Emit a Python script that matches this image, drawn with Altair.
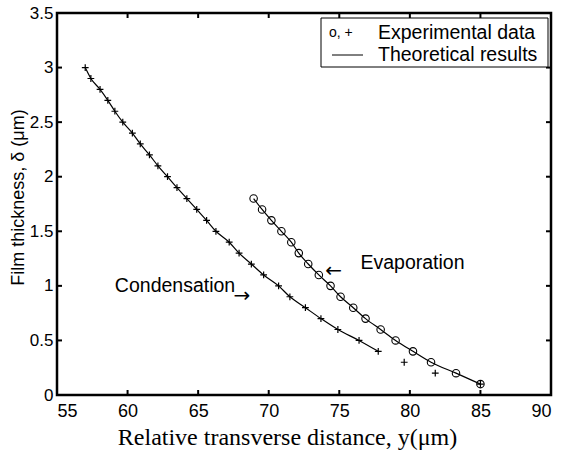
import altair as alt
import pandas as pd

# Condensation (+): film thickness vs. transverse distance
cond_delta = [3.0, 2.9, 2.8, 2.7, 2.6, 2.5, 2.4, 2.3, 2.2, 2.1, 2.0, 1.9, 1.8, 1.7,
              1.6, 1.5, 1.4, 1.3, 1.2, 1.1, 1.0, 0.9, 0.8, 0.7, 0.6, 0.5, 0.4]
cond_x = [57.0, 57.4, 58.05, 58.6, 59.1, 59.66, 60.34, 60.9, 61.55, 62.15, 62.83,
          63.5, 64.2, 64.9, 65.6, 66.26, 67.2, 67.9, 68.77, 69.64, 70.7, 71.5,
          72.6, 73.7, 74.9, 76.4, 77.76]
# extra condensation experimental points (no theoretical curve)
cond_tail_delta = [0.3, 0.2, 0.1]
cond_tail_x = [79.6, 81.8, 85.0]

# Evaporation (o)
evap_delta = [1.8, 1.7, 1.6, 1.5, 1.4, 1.3, 1.2, 1.1, 1.0, 0.9, 0.8, 0.7, 0.6,
              0.5, 0.4, 0.3, 0.2, 0.1]
evap_x = [68.93, 69.53, 70.19, 70.9, 71.6, 72.13, 72.8, 73.55, 74.38, 75.09,
          75.99, 76.86, 77.93, 78.99, 80.22, 81.5, 83.27, 85.0]

x_ticks = [55, 60, 65, 70, 75, 80, 85, 90]
y_ticks = [0, 0.5, 1, 1.5, 2, 2.5, 3, 3.5]

annot_text = ["Evaporation", "Condensation"]
annot_x = [76.5, 59.1]
annot_y = [1.21, 1.0]
arrow_text = ["\u2190", "\u2192"]
arrow_x = [74.0, 67.5]
arrow_y = [1.14, 0.91]

W, H = 494, 382
SANS = "Liberation Sans"
SERIF = "Liberation Serif"

xs = alt.Scale(domain=[55, 90], nice=False, zero=False)
ys = alt.Scale(domain=[0, 3.5], nice=False, zero=False)

cond_df = pd.DataFrame({"x": cond_x, "d": cond_delta})
cond_pts = pd.DataFrame({"x": cond_x + cond_tail_x, "d": cond_delta + cond_tail_delta})
evap_df = pd.DataFrame({"x": evap_x, "d": evap_delta})

xaxis = alt.Axis(values=x_ticks, domain=False, ticks=False, grid=False,
                 labelFont=SANS, labelFontSize=18, labelColor="black",
                 labelPadding=7, labelExpr="datum.value",
                 title="Relative transverse distance, y(\u03bcm)",
                 titleFont=SERIF, titleFontSize=24, titleFontWeight="normal",
                 titleColor="black", titleX=230, titleY=49,
                 titleBaseline="alphabetic", titleAnchor="middle")
yaxis = alt.Axis(values=y_ticks, domain=False, ticks=False, grid=False,
                 labelFont=SANS, labelFontSize=17, labelColor="black",
                 labelPadding=4, labelExpr="datum.value",
                 title="Film thickness, \u03b4 (\u03bcm)",
                 titleFont=SANS, titleFontSize=18, titleFontWeight="normal",
                 titleColor="black", titleX=-39, titleY=184, titleAngle=270,
                 titleBaseline="middle", titleAlign="center")

base_x = alt.X("x:Q", scale=xs, axis=xaxis)
base_y = alt.Y("d:Q", scale=ys, axis=yaxis)

cond_line = alt.Chart(cond_df).mark_line(color="black", strokeWidth=1.2,
                                         interpolate="monotone").encode(
    x=base_x, y=base_y, order="x:Q")
evap_line = alt.Chart(evap_df).mark_line(color="black", strokeWidth=1.2,
                                         interpolate="monotone").encode(
    x=alt.X("x:Q", scale=xs), y=alt.Y("d:Q", scale=ys), order="x:Q")

plus_path = "M-1,0L1,0M0,-1L0,1"
cond_marks = alt.Chart(cond_pts).mark_point(shape=plus_path, filled=False,
                                            color="black", size=46,
                                            strokeWidth=1.2, opacity=1).encode(
    x=alt.X("x:Q", scale=xs), y=alt.Y("d:Q", scale=ys))
evap_marks = alt.Chart(evap_df).mark_point(shape="circle", filled=False,
                                           color="black", size=56,
                                           strokeWidth=1.1, opacity=1).encode(
    x=alt.X("x:Q", scale=xs), y=alt.Y("d:Q", scale=ys))

# inward ticks on all four sides
xt = pd.DataFrame({"v": x_ticks})
yt = pd.DataFrame({"v": y_ticks})
tick_style = dict(color="black", strokeWidth=2)
xt_bot = alt.Chart(xt).mark_rule(**tick_style).encode(
    x=alt.X("v:Q", scale=xs), y=alt.value(H), y2=alt.value(H - 5))
xt_top = alt.Chart(xt).mark_rule(**tick_style).encode(
    x=alt.X("v:Q", scale=xs), y=alt.value(0), y2=alt.value(5))
yt_left = alt.Chart(yt).mark_rule(**tick_style).encode(
    y=alt.Y("v:Q", scale=ys), x=alt.value(0), x2=alt.value(5))
yt_right = alt.Chart(yt).mark_rule(**tick_style).encode(
    y=alt.Y("v:Q", scale=ys), x=alt.value(W), x2=alt.value(W - 5))

annot_df = pd.DataFrame({"t": annot_text, "x": annot_x, "d": annot_y})
annots = alt.Chart(annot_df).mark_text(font=SANS, fontSize=19.5, align="left",
                                       baseline="middle", color="black").encode(
    x=alt.X("x:Q", scale=xs), y=alt.Y("d:Q", scale=ys), text="t:N")
arrow_df = pd.DataFrame({"t": arrow_text, "x": arrow_x, "d": arrow_y})
arrows = alt.Chart(arrow_df).mark_text(font="DejaVu Sans", fontSize=20,
                                       align="left", baseline="middle",
                                       color="black").encode(
    x=alt.X("x:Q", scale=xs), y=alt.Y("d:Q", scale=ys), text="t:N")

# legend box
one = pd.DataFrame({"k": [0]})
leg_box = alt.Chart(one).mark_rect(fill="white", stroke="black",
                                   strokeWidth=1).encode(
    x=alt.value(264), x2=alt.value(491), y=alt.value(5), y2=alt.value(54))
leg_line = alt.Chart(one).mark_rule(color="black", strokeWidth=1).encode(
    x=alt.value(275), x2=alt.value(306), y=alt.value(42))
leg_sym = alt.Chart(pd.DataFrame({"t": ["o, +"]})).mark_text(
    font=SANS, fontSize=14, align="left", baseline="middle", color="black").encode(
    x=alt.value(272), y=alt.value(20), text="t:N")
leg_txt = alt.Chart(pd.DataFrame({"t": ["Experimental data", "Theoretical results"],
                                  "yy": [20, 42]})).mark_text(
    font=SANS, fontSize=19.5, align="left", baseline="middle", color="black").encode(
    x=alt.value(321), y=alt.Y("yy:Q", scale=None), text="t:N")

chart = alt.layer(
    cond_line, evap_line, cond_marks, evap_marks,
    xt_bot, xt_top, yt_left, yt_right, annots, arrows,
    leg_box, leg_line, leg_sym, leg_txt
).properties(
    width=W, height=H,
    autosize=alt.AutoSizeParams(type="none"),
    padding={"left": 57, "top": 13, "right": 11, "bottom": 59},
    background="white"
).configure_view(stroke="black", strokeWidth=2.5)

chart.save("out.html", embed_options={"renderer": "svg", "actions": False})
